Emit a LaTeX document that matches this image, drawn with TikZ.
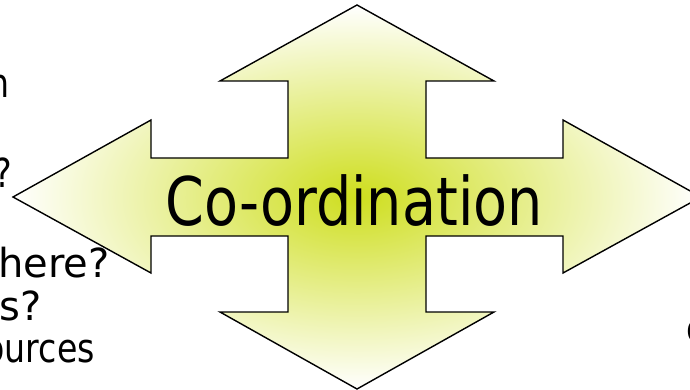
\documentclass[tikz,border=0pt]{standalone}
\usepackage{fontspec}
\setmainfont{DejaVu Sans}
\definecolor{core}{RGB}{206,222,30}
\tikzset{
  sidetext/.style={inner sep=0pt, font=\fontsize{40}{48}\selectfont, anchor=base east},
  titletext/.style={inner sep=0pt, font=\fontsize{67}{80}\selectfont, anchor=base}
}
\newcommand{\narrow}[1]{\scalebox{0.83}[1]{#1}}
\begin{document}
\begin{tikzpicture}[x=1pt,y=-1pt]
\useasboundingbox (0,0) rectangle (690,390);
\clip (0,0) rectangle (690,390);
\fill[white] (0,0) rectangle (690,390);
\path[shade, inner color=core, outer color=white, draw=black, line width=1.4pt, line join=miter]
  (357,5) -- (494,81) -- (426,81) -- (426,158) -- (563,158) -- (563,120) -- (701,197)
  -- (563,273) -- (563,236) -- (426,236) -- (426,312) -- (494,312) -- (357,389)
  -- (220,312) -- (288,312) -- (288,236) -- (151,236) -- (151,273) -- (13,197)
  -- (151,120) -- (151,158) -- (288,158) -- (288,81) -- (220,81) -- cycle;
\node[titletext] (title) at (354,225) {\narrow{Co-ordination}};
\node[sidetext] (l1) at (10,98) {\narrow{n}};
\node[sidetext] (l2) at (12,188) {\narrow{?}};
\node[sidetext] (l3) at (110,277) {here?};
\node[sidetext] (l4) at (42,320) {s?};
\node[sidetext] (l5) at (95,362) {\narrow{ources}};
\node[sidetext, anchor=base west] (r1) at (686,342) {\narrow{c}};
\end{tikzpicture}
\end{document}
